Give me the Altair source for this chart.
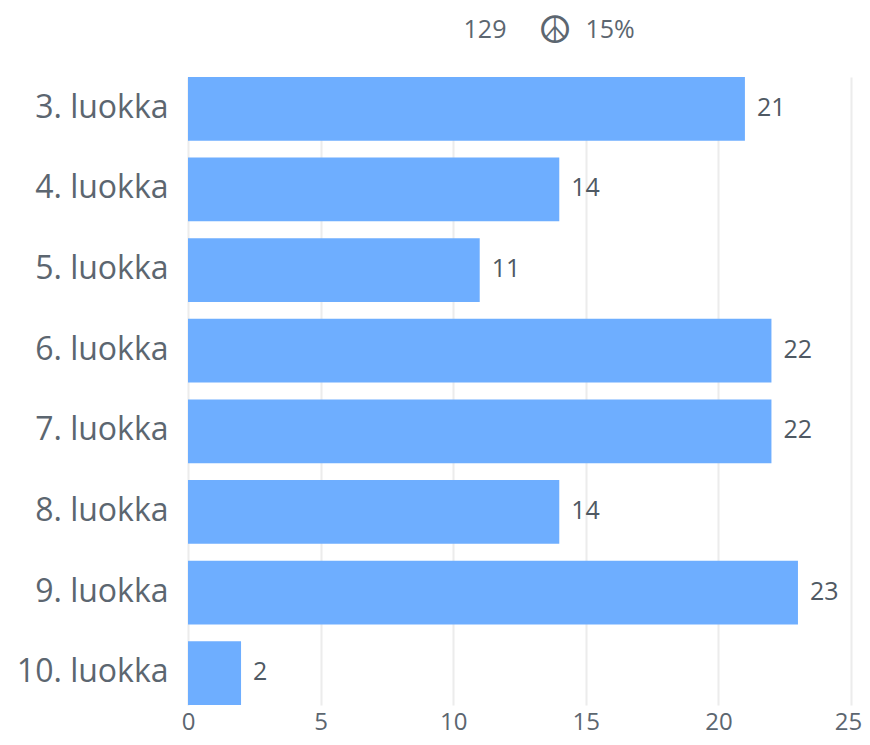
import altair as alt
import pandas as pd

categories = ["3. luokka", "4. luokka", "5. luokka", "6. luokka", "7. luokka", "8. luokka", "9. luokka", "10. luokka"]
values = [21, 14, 11, 22, 22, 14, 23, 2]
x_ticks = [0, 5, 10, 15, 20, 25]

df = pd.DataFrame({"cat": categories, "val": values})
font = "Open Sans"
grey = "#5c6670"
dark = "#4f5963"

x = alt.X("val:Q", scale=alt.Scale(domain=[0, 25], nice=False),
          axis=alt.Axis(values=x_ticks, title=None, grid=True, gridColor="#ececec", gridWidth=2,
                        domain=False, ticks=False, labelFontSize=24, labelColor=grey, labelFont=font,
                        labelPadding=5, labelFlush=False,
                        labelOffset=alt.expr("datum.value == 25 ? -3 : 0")))
y = alt.Y("cat:N", sort=categories, scale=alt.Scale(paddingInner=0.21, paddingOuter=0),
          axis=alt.Axis(title=None, domain=False, ticks=False, labelFontSize=32, labelColor=grey,
                        labelFont=font, labelPadding=20, labelLimit=200, labelOffset=-1))

bars = alt.Chart(df).mark_bar(color="#6eaeff").encode(x=x, y=y)
labels = alt.Chart(df).mark_text(align="left", dx=12, dy=-1, fontSize=25, color=dark, font=font).encode(
    x=alt.X("val:Q"), y=alt.Y("cat:N", sort=categories), text=alt.Text("val:Q"))


def header(text, px, py, size, fnt):
    return alt.Chart(pd.DataFrame({"t": [text]})).mark_text(
        fontSize=size, color=grey, font=fnt, align="center", baseline="middle"
    ).encode(x=alt.value(px), y=alt.value(py), text="t:N")


h1 = header("129", 297, -47, 25, font)
h2 = header("\u262e", 367, -45, 38, "DejaVu Sans")
h3 = header("15%", 422, -47, 25, font)

chart = (bars + labels + h1 + h2 + h3).properties(
    width=663, height=628,
    autosize=alt.AutoSizeParams(type="none"),
    padding={"left": 180, "top": 69, "right": 11, "bottom": 32},
).configure_view(stroke=None)
chart.save("out.html", embed_options={"renderer": "svg", "actions": False})
